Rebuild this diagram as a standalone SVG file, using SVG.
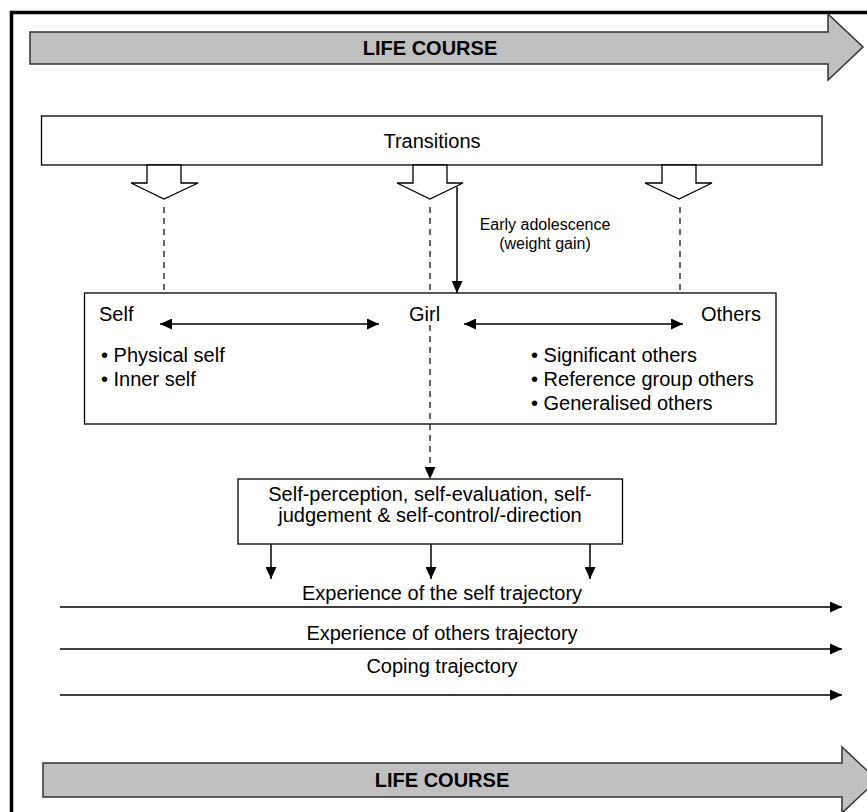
<svg xmlns="http://www.w3.org/2000/svg" width="867" height="812" viewBox="0 0 867 812">
<defs>
<style>
text{font-family:"Liberation Sans",Arial,sans-serif;fill:#000}
.t{font-size:20px}
.b{font-size:20px;font-weight:bold}
.s{font-size:16px}
.box{fill:#fff;stroke:#000;stroke-width:1.3}
.bar{fill:#c0c0c0;stroke:#333;stroke-width:1.5}
.ln{stroke:#000;stroke-width:1.5;fill:none}
.dash{stroke:#000;stroke-width:1.2;fill:none;stroke-dasharray:6,5}
</style>
<marker id="ah" markerWidth="12" markerHeight="11" refX="12" refY="5.5" orient="auto-start-reverse" markerUnits="userSpaceOnUse">
<path d="M0,0 L12,5.5 L0,11 z" fill="#000"/>
</marker>
</defs>
<rect x="0" y="0" width="867" height="812" fill="#fff"/>
<rect x="11.5" y="12.5" width="880" height="820" fill="none" stroke="#000" stroke-width="3.5"/>

<g id="lifecourse-top">
<polygon class="bar" points="30,32 828,32 828,14 863,47 828,80 828,64 30,64"/>
<text class="b" x="430" y="55" text-anchor="middle">LIFE COURSE</text>
</g>

<g id="transitions">
<rect class="box" x="41.5" y="116" width="780.5" height="49"/>
<text class="t" x="432" y="148" text-anchor="middle">Transitions</text>
</g>

<g id="block-arrow-left">
<polygon class="box" points="147,165 181,165 181,183 198,183 164,199 131,183 147,183"/>
</g>
<g id="block-arrow-mid">
<polygon class="box" points="413,165 447,165 447,183 463,183 430,199 397,183 413,183"/>
</g>
<g id="block-arrow-right">
<polygon class="box" points="662,165 696,165 696,183 712,183 679,199 645,183 662,183"/>
</g>

<g id="girl-box">
<rect class="box" x="84.5" y="293" width="691.5" height="131"/>
<text class="t" x="99" y="321">Self</text>
<text class="t" x="409" y="321">Girl</text>
<text class="t" x="761" y="321" text-anchor="end">Others</text>
<text class="t" x="101" y="362">• Physical self</text>
<text class="t" x="101" y="386">• Inner self</text>
<text class="t" x="531" y="362">• Significant others</text>
<text class="t" x="531" y="386">• Reference group others</text>
<text class="t" x="531" y="410">• Generalised others</text>
</g>

<g id="self-box">
<rect class="box" x="238" y="479" width="384.5" height="65"/>
<text class="t" x="430" y="501" text-anchor="middle">Self-perception, self-evaluation, self-</text>
<text class="t" x="430" y="522" text-anchor="middle">judgement &amp; self-control/-direction</text>
</g>

<g id="labels">
<text class="s" x="545" y="230" text-anchor="middle">Early adolescence</text>
<text class="s" x="545" y="249" text-anchor="middle">(weight gain)</text>
<text class="t" x="442" y="600" text-anchor="middle">Experience of the self trajectory</text>
<text class="t" x="442" y="640" text-anchor="middle">Experience of others trajectory</text>
<text class="t" x="442" y="673" text-anchor="middle">Coping trajectory</text>
</g>

<g id="connectors">
<line class="dash" x1="164" y1="207" x2="164" y2="292"/>
<line class="dash" x1="430" y1="207" x2="430" y2="292"/>
<line class="dash" x1="680" y1="207" x2="680" y2="292"/>
<line class="ln" x1="457" y1="187" x2="457" y2="293" marker-end="url(#ah)"/>
<line class="ln" x1="160" y1="324" x2="379" y2="324" marker-start="url(#ah)" marker-end="url(#ah)"/>
<line class="ln" x1="464" y1="324" x2="683" y2="324" marker-start="url(#ah)" marker-end="url(#ah)"/>
<line class="dash" x1="430" y1="325" x2="430" y2="479" marker-end="url(#ah)"/>
<line class="ln" x1="271" y1="544" x2="271" y2="579" marker-end="url(#ah)"/>
<line class="ln" x1="431" y1="544" x2="431" y2="579" marker-end="url(#ah)"/>
<line class="ln" x1="590" y1="544" x2="590" y2="579" marker-end="url(#ah)"/>
<line class="ln" x1="60" y1="607" x2="842" y2="607" marker-end="url(#ah)"/>
<line class="ln" x1="60" y1="649" x2="842" y2="649" marker-end="url(#ah)"/>
<line class="ln" x1="60" y1="695" x2="842" y2="695" marker-end="url(#ah)"/>
</g>

<g id="lifecourse-bottom">
<polygon class="bar" points="43,763 842,763 842,747 877,780 842,813 842,797 43,797"/>
<text class="b" x="442" y="787" text-anchor="middle">LIFE COURSE</text>
</g>
</svg>
